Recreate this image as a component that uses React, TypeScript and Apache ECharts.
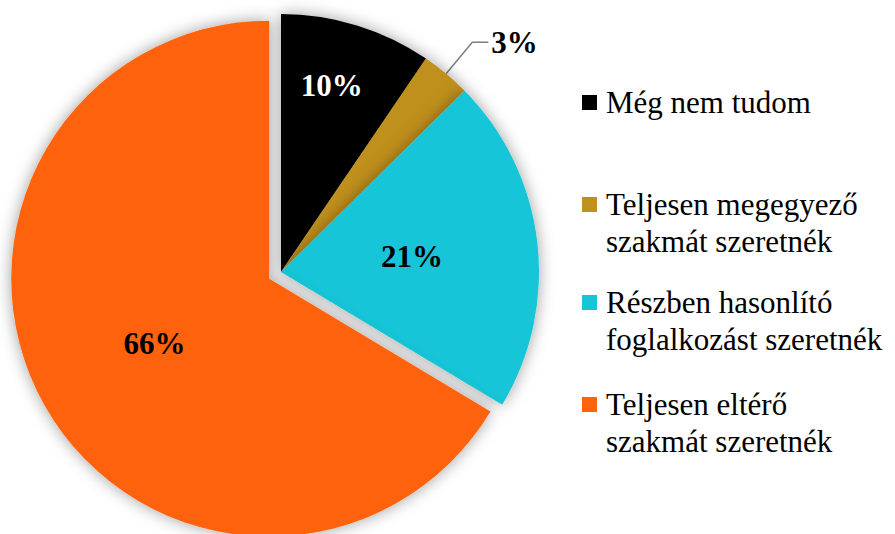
import React, { useEffect, useRef } from 'react';
import * as echarts from 'echarts';

// ---- data ----
const categories = [
  'Még nem tudom',
  'Teljesen megegyező\nszakmát szeretnék',
  'Részben hasonlító\nfoglalkozást szeretnék',
  'Teljesen eltérő\nszakmát szeretnék',
];
const values = [9.5, 3.1, 21.0, 66.4];
const colors = ['#000000', '#C0901F', '#17C5D7', '#FF620C'];
const labelColors = ['#FFFFFF', '#000000', '#000000', '#000000'];

// ---- layout constants ----
const FONT = 'Liberation Serif';
const legendTops = [84, 186, 284, 386];

export default function App() {
  const ref = useRef<HTMLDivElement>(null);

  useEffect(() => {
    if (!ref.current) return;
    const chart = echarts.init(ref.current, null, { renderer: 'svg' });

    const data = values.map((v, i) => {
      const item: any = {
        name: categories[i],
        value: v,
        itemStyle: { color: colors[i] },
        label: { color: labelColors[i] },
      };
      if (i === 1) {
        item.label = {
          color: labelColors[i],
          position: 'outside',
          distanceToLabelLine: 3,
          padding: [0, 0, 16, 0],
        };
        item.labelLine = {
          show: true,
          length: 41,
          length2: 16,
          lineStyle: { color: '#7F7F7F', width: 1.5 },
        };
      }
      if (i === 3) {
        item.selected = true;
        item.select = { itemStyle: { color: colors[i], borderWidth: 0 } };
      }
      return item;
    });

    const legends = categories.map((name, i) => {
      const h = i === 0 ? 15 : 52;
      return {
        orient: 'vertical',
        left: 582,
        top: legendTops[i],
        padding: 0,
        selectedMode: false,
        data: [name],
        itemWidth: 19,
        itemHeight: h,
        icon: `path://M0,0h15v15h-15zM19,${h}L19,${h}`,
        itemStyle: { borderWidth: 0 },
        textStyle: { fontFamily: FONT, fontSize: 31, color: '#000', lineHeight: 37 },
      };
    });

    chart.setOption({
      animation: false,
      backgroundColor: '#ffffff',
      textStyle: { fontFamily: FONT },
      legend: legends,
      series: [
        {
          type: 'pie',
          center: [281, 272],
          radius: 258,
          startAngle: 90,
          clockwise: true,
          selectedMode: 'single',
          selectedOffset: 13.5,
          avoidLabelOverlap: false,
          percentPrecision: 0,
          itemStyle: {
            borderWidth: 0,
            shadowBlur: 16,
            shadowColor: 'rgba(0,0,0,0.38)',
          },
          label: {
            show: true,
            position: 'inside',
            formatter: '{d}%',
            fontFamily: FONT,
            fontWeight: 'bold',
            fontSize: 31,
            textBorderWidth: 0,
          },
          labelLine: { show: false },
          emphasis: { disabled: true },
          select: { itemStyle: { borderWidth: 0 } },
          labelLayout: (params: any) => {
            if (params.dataIndex !== 0) return {};
            return { dx: 12, dy: -60 };
          },
          data,
        },
      ],
    });

    return () => chart.dispose();
  }, []);

  return (
    <div
      ref={ref}
      style={{ position: 'fixed', left: 0, top: 0, width: 895, height: 534 }}
    />
  );
}
